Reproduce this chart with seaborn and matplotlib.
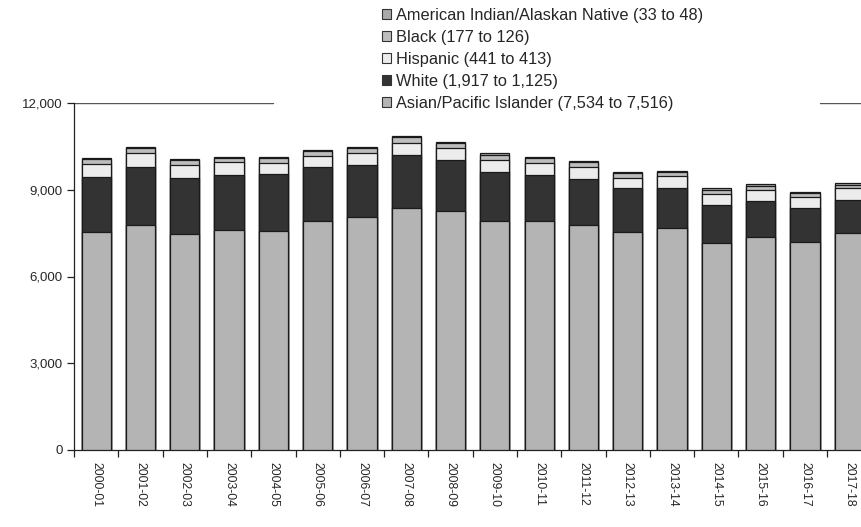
import matplotlib
matplotlib.use("Agg")
import matplotlib.pyplot as plt
from matplotlib.patches import Patch
from matplotlib.ticker import FuncFormatter, FixedLocator
import numpy as np
import pandas as pd
import seaborn as sns

# Academic years
years = ["2000-01", "2001-02", "2002-03", "2003-04", "2004-05", "2005-06",
         "2006-07", "2007-08", "2008-09", "2009-10", "2010-11", "2011-12",
         "2012-13", "2013-14", "2014-15", "2015-16", "2016-17", "2017-18"]

# Enrollment by group (stacked bottom to top)
asian = [7534, 7770, 7479, 7597, 7580, 7908, 8046, 8378, 8254, 7908,
         7908, 7770, 7549, 7666, 7168, 7376, 7203, 7516]
white = [1917, 2005, 1915, 1923, 1960, 1867, 1809, 1822, 1774, 1706,
         1601, 1601, 1501, 1383, 1293, 1234, 1155, 1125]
hispanic = [441, 484, 461, 429, 394, 401, 403, 403, 403, 415,
            403, 403, 346, 425, 380, 380, 380, 413]
black = [177, 172, 168, 160, 158, 160, 185, 205, 185, 185,
         180, 175, 170, 140, 165, 150, 135, 126]
am_indian = [33, 35, 38, 34, 36, 37, 40, 45, 42, 44,
             45, 48, 50, 43, 55, 52, 48, 48]

groups = [
    ("Asian/Pacific Islander", asian, "#b4b4b4"),
    ("White", white, "#333333"),
    ("Hispanic", hispanic, "#ececec"),
    ("Black", black, "#bdbdbd"),
    ("American Indian/Alaskan Native", am_indian, "#a9a9a9"),
]

df = pd.DataFrame({"year": years})
running = np.zeros(len(years))
for name, vals, _ in groups:
    running = running + np.array(vals)
    df[name] = running.copy()

sns.set_style("white")
plt.rcParams["font.family"] = ["Liberation Sans", "DejaVu Sans"]

W, H = 861, 527
fig = plt.figure(figsize=(W / 100, H / 100), dpi=100)
ax = fig.add_axes([74 / W, (H - 450) / H, 797.4 / W, 347 / H])

# Draw cumulative totals from the top layer down so each layer overlays the next
edge = "#1a1a1a"
for (name, _, color) in reversed(groups):
    sns.barplot(data=df, x="year", y=name, color=color, width=0.66,
                edgecolor=edge, linewidth=0.9, saturation=1, ax=ax, zorder=3)

ax.set_xlim(-0.5, len(years) - 0.5)
ax.set_ylim(0, 12000)
ax.set_xlabel("")
ax.set_ylabel("")

ax.yaxis.set_major_locator(FixedLocator([0, 3000, 6000, 9000, 12000]))
ax.yaxis.set_major_formatter(FuncFormatter(lambda v, p: f"{int(v):,}"))
ax.tick_params(axis="y", direction="out", length=5, width=0.9, color="#222222",
               labelsize=9.5, pad=3, left=True)

# Category labels at centres, tick marks on category boundaries
ax.set_xticks(range(len(years)))
ax.set_xticklabels(years, rotation=270, fontsize=8.7)
ax.tick_params(axis="x", which="major", length=0, pad=9)
ax.set_xticks(np.arange(-0.5, len(years), 1.0), minor=True)
ax.tick_params(axis="x", which="minor", direction="out", length=5,
               width=0.9, color="#222222", bottom=True)

for s in ["top", "right"]:
    ax.spines[s].set_visible(False)
for s in ["left", "bottom"]:
    ax.spines[s].set_color("#222222")
    ax.spines[s].set_linewidth(0.9)

# Upper boundary line, interrupted behind the legend
ax.axhline(12000, xmin=0, xmax=0.2496, color="#555555", lw=1, zorder=1)
ax.axhline(12000, xmin=0.9356, xmax=1, color="#555555", lw=1, zorder=1)

handles = [Patch(facecolor=c, edgecolor="#333333", linewidth=0.8,
                 label=f"{n} ({v[0]:,} to {v[-1]:,})")
           for n, v, c in reversed(groups)]
leg = fig.legend(handles=handles, loc="upper left",
                 bbox_to_anchor=(382 / W, 1 - 8 / H),
                 frameon=False, fontsize=11.8, handlelength=0.55,
                 handleheight=0.55, handletextpad=0.3, labelspacing=0.43,
                 borderpad=0, borderaxespad=0)

fig.savefig("out.png", dpi=100)
